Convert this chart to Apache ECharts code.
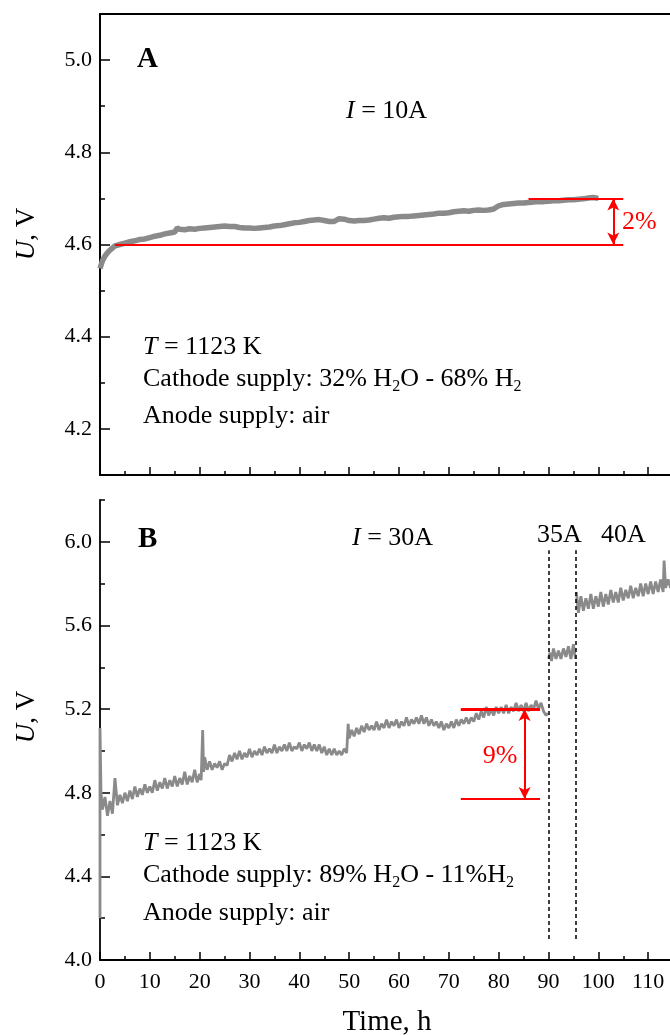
<!DOCTYPE html>
<html><head><meta charset="utf-8">
<script src="https://cdn.jsdelivr.net/npm/echarts@6/dist/echarts.min.js"></script>
<style>html,body{margin:0;padding:0;background:#fff}#c{width:670px;height:1035px}</style>
</head><body><div id="c"></div>
<script>
// ---- Data (time h, voltage V) ----
const panelA_10A = [
[0,4.548],[0.5,4.565],[1,4.575],[1.5,4.582],[2,4.588],[3,4.597],[4,4.600],[5,4.603],[6,4.606],[7,4.608],
[8,4.611],[9,4.612],[10,4.615],[11,4.618],[12,4.620],[13,4.623],[14,4.625],[15,4.627],[15.5,4.636],[16,4.633],
[17,4.632],[18,4.634],[19,4.633],[20,4.635],[21,4.636],[22,4.637],[23,4.638],[24,4.639],[25,4.640],[26,4.639],
[27,4.639],[28,4.637],[29,4.636],[30,4.636],[31,4.635],[32,4.636],[33,4.637],[34,4.638],[35,4.640],[36,4.641],
[37,4.643],[38,4.645],[39,4.647],[40,4.648],[41,4.650],[42,4.652],[43,4.653],[44,4.654],[45,4.652],[46,4.650],
[47,4.650],[48,4.656],[49,4.655],[50,4.652],[51,4.651],[52,4.652],[53,4.652],[54,4.653],[55,4.655],[56,4.657],
[57,4.658],[58,4.657],[59,4.659],[60,4.660],[61,4.661],[62,4.661],[63,4.662],[64,4.663],[65,4.664],[66,4.665],
[67,4.666],[68,4.668],[69,4.668],[70,4.669],[71,4.671],[72,4.672],[73,4.673],[74,4.672],[75,4.674],[76,4.675],
[77,4.674],[78,4.675],[79,4.677],[80,4.684],[81,4.687],[82,4.688],[83,4.689],[84,4.690],[85,4.690],[86,4.691],
[87,4.692],[88,4.693],[89,4.693],[90,4.694],[91,4.695],[92,4.695],[93,4.696],[94,4.697],[95,4.697],[96,4.698],
[97,4.699],[98,4.701],[99,4.702],[100,4.700]
];
const panelB_30A = [
[0,4.20],[0,5.11],[0.2,4.80],[0.5,4.72],[1,4.78],[1.5,4.69],[2,4.76],[2.5,4.70],[3,4.87],[3.5,4.74],
[4,4.79],[4.5,4.75],[5,4.80],[5.5,4.76],[6,4.81],[6.5,4.77],[7,4.83],[7.5,4.78],[8,4.82],[8.5,4.79],
[9,4.84],[9.5,4.80],[10,4.83],[10.5,4.80],[11,4.86],[11.5,4.81],[12,4.85],[12.5,4.82],[13,4.87],[13.5,4.82],
[14,4.86],[14.5,4.83],[15,4.88],[15.5,4.83],[16,4.87],[16.5,4.84],[17,4.90],[17.5,4.84],[18,4.88],[18.5,4.85],
[19,4.91],[19.5,4.85],[20,4.89],[20.3,4.86],[20.6,5.10],[20.8,4.90],[21,4.97],[21.5,4.91],[22,4.95],[22.5,4.91],
[23,4.94],[23.5,4.92],[24,4.95],[24.5,4.91],[25,4.94],[25.5,4.93],[26,4.98],[26.5,4.95],[27,4.99],[27.5,4.96],
[28,5.00],[28.5,4.96],[29,4.99],[29.5,4.97],[30,5.01],[30.5,4.97],[31,5.00],[31.5,4.98],[32,5.01],[32.5,4.98],
[33,5.02],[33.5,4.99],[34,5.01],[34.5,4.99],[35,5.03],[35.5,4.99],[36,5.02],[36.5,5.00],[37,5.03],[37.5,5.00],
[38,5.04],[38.5,5.00],[39,5.02],[39.5,5.01],[40,5.04],[40.5,5.00],[41,5.03],[41.5,5.01],[42,5.04],[42.5,5.00],
[43,5.03],[43.5,5.00],[44,5.03],[44.5,4.99],[45,5.02],[45.5,4.98],[46,5.01],[46.5,4.98],[47,5.01],[47.5,4.98],
[48,5.00],[48.5,4.98],[49,5.01],[49.5,4.99],[49.8,5.13],[50,5.06],[50.5,5.10],[51,5.07],[51.5,5.11],[52,5.08],
[52.5,5.12],[53,5.09],[53.5,5.13],[54,5.10],[54.5,5.12],[55,5.10],[55.5,5.14],[56,5.10],[56.5,5.13],[57,5.11],
[57.5,5.15],[58,5.11],[58.5,5.14],[59,5.12],[59.5,5.15],[60,5.11],[60.5,5.14],[61,5.12],[61.5,5.16],[62,5.12],
[62.5,5.15],[63,5.13],[63.5,5.16],[64,5.13],[64.5,5.17],[65,5.13],[65.5,5.16],[66,5.12],[66.5,5.15],[67,5.12],
[67.5,5.14],[68,5.11],[68.5,5.14],[69,5.10],[69.5,5.13],[70,5.11],[70.5,5.14],[71,5.11],[71.5,5.15],[72,5.12],
[72.5,5.15],[73,5.13],[73.5,5.16],[74,5.13],[74.5,5.16],[75,5.14],[75.5,5.18],[76,5.15],[76.5,5.19],[77,5.16],
[77.5,5.21],[78,5.17],[78.5,5.20],[79,5.17],[79.5,5.21],[80,5.18],[80.5,5.21],[81,5.18],[81.5,5.22],[82,5.18],
[82.5,5.21],[83,5.19],[83.5,5.23],[84,5.19],[84.5,5.22],[85,5.19],[85.5,5.23],[86,5.19],[86.5,5.22],[87,5.20],
[87.5,5.24],[88,5.20],[88.5,5.23],[89,5.19],[89.5,5.17],[89.9,5.18]
];
const panelB_35A = [
[90,5.44],[90.3,5.47],[90.6,5.43],[91,5.49],[91.5,5.44],[92,5.48],[92.5,5.44],[93,5.49],[93.5,5.45],[94,5.50],
[94.5,5.44],[95,5.51],[95.4,5.44]
];
const panelB_40A = [
[95.6,5.76],[96,5.66],[96.5,5.74],[97,5.67],[97.5,5.73],[98,5.68],[98.5,5.75],[99,5.68],[99.5,5.74],[100,5.69],
[100.5,5.76],[101,5.69],[101.5,5.75],[102,5.70],[102.5,5.77],[103,5.71],[103.5,5.76],[104,5.71],[104.5,5.78],[105,5.72],
[105.5,5.77],[106,5.73],[106.5,5.79],[107,5.73],[107.5,5.78],[108,5.74],[108.5,5.80],[109,5.74],[109.5,5.80],[110,5.75],
[110.5,5.81],[111,5.75],[111.5,5.81],[112,5.76],[112.5,5.82],[113,5.76],[113.2,5.91],[113.5,5.78],[114,5.82],[114.5,5.78],
[115,5.81]
];
const yMajorA = [4.2,4.4,4.6,4.8,5.0];
const yMinorA = [4.3,4.5,4.7,4.9];
const yMajorB = [4.0,4.4,4.8,5.2,5.6,6.0];
const yMinorB = [4.2,4.6,5.0,5.4,5.8,6.2];
const currentSteps = [90, 95.5];

const FONT = "'Liberation Serif','Times New Roman',serif";
const LINE = {show:true, onZero:false, lineStyle:{color:'#000', width:1.8}};
const TICKSTYLE = {color:'#000', width:1.5};

function yPair(grid, min, max, major, minor){
  return [
    {type:'value', gridIndex:grid, min, max, position:'left', axisLine:LINE, splitLine:{show:false},
     axisTick:{show:true, inside:true, length:10, customValues:major, lineStyle:TICKSTYLE},
     axisLabel:{show:true, customValues:major, margin:8, color:'#000', fontFamily:FONT, fontSize:22,
       formatter:v=>Number(v).toFixed(1)}},
    {type:'value', gridIndex:grid, min, max, position:'left', axisLine:{show:false}, splitLine:{show:false},
     axisLabel:{show:false},
     axisTick:{show:true, inside:true, length:5, customValues:minor, lineStyle:TICKSTYLE}}
  ];
}
function xAx(grid, labels){
  return {type:'value', gridIndex:grid, min:0, max:120, interval:10, position:'bottom',
    axisLine:LINE, splitLine:{show:false},
    axisTick:{show:true, inside:true, length:8, lineStyle:TICKSTYLE},
    minorTick:{show:true, splitNumber:2, length:4, lineStyle:TICKSTYLE},
    axisLabel:{show:labels, margin:11, color:'#000', fontFamily:FONT, fontSize:22}};
}
function richFor(size, fill){
  return {
    i:{fontFamily:FONT, fontSize:size, fontStyle:'italic', fill, lineHeight:32},
    s:{fontFamily:FONT, fontSize:16, fill, lineHeight:15, verticalAlign:'bottom'}
  };
}
function txt(x, y, text, o){
  o = o || {};
  const size = o.size || 26, fill = o.fill || '#000', al = o.align || 'left';
  return {type:'text', x, y, rotation:o.rotation || 0, z:100, silent:true,
    style:{text, fill, fontFamily:FONT, fontSize:size, fontWeight:o.weight || 'normal', lineHeight:32,
      align:al, textAlign:al, verticalAlign:'middle', textVerticalAlign:'middle', rich:richFor(size, fill)}};
}
const red = '#ff0000';
const seg = (a,b,extra)=>[Object.assign({coord:a}, extra||{}), {coord:b}];
const arrowSeg = (a,b)=>[{coord:a, symbol:'arrow'}, {coord:b, symbol:'arrow'}];
const grayLine = w => ({color:'#8a8a8a', width:w});

const option = {
  animation:false,
  backgroundColor:'#fff',
  grid:[
    {left:100, top:14, width:598, height:461, show:true, borderColor:'#000', borderWidth:1.8, backgroundColor:'transparent', outerBoundsMode:'none', containLabel:false},
    {left:100, top:500, width:598, height:460, show:false, outerBoundsMode:'none', containLabel:false}
  ],
  xAxis:[xAx(0,false), xAx(1,true)],
  yAxis:[].concat(yPair(0,4.1,5.1,yMajorA,yMinorA), yPair(1,4.0,6.2,yMajorB,yMinorB)),
  series:[
    {type:'line', xAxisIndex:0, yAxisIndex:0, data:panelA_10A, showSymbol:false, symbol:'none',
     lineStyle:grayLine(5.5), z:2,
     markLine:{silent:true, symbol:['none','none'], symbolSize:[9,12], label:{show:false}, animation:false,
       lineStyle:{color:red, width:2, type:'solid'},
       data:[ seg([3,4.6],[105,4.6]), seg([86,4.7],[105,4.7]), arrowSeg([103,4.6],[103,4.7]) ]}},
    {type:'line', xAxisIndex:1, yAxisIndex:2, data:panelB_30A, showSymbol:false, symbol:'none',
     lineStyle:grayLine(2.8), z:2,
     markLine:{silent:true, symbol:['none','none'], symbolSize:[9,12], label:{show:false}, animation:false,
       lineStyle:{color:red, width:2, type:'solid'},
       data:[ seg([72.4,5.2],[88.3,5.2],{lineStyle:{color:red,width:3}}), seg([72.4,4.77],[88.3,4.77]), arrowSeg([85.2,5.2],[85.2,4.77]),
         seg([currentSteps[0],4.1],[currentSteps[0],5.96],{lineStyle:{color:'#000',width:1.5,type:[4,3]}}),
         seg([currentSteps[1],4.1],[currentSteps[1],5.96],{lineStyle:{color:'#000',width:1.5,type:[4,3]}}) ]}},
    {type:'line', xAxisIndex:1, yAxisIndex:2, data:panelB_35A, showSymbol:false, symbol:'none',
     lineStyle:grayLine(2.8), z:2},
    {type:'line', xAxisIndex:1, yAxisIndex:2, data:panelB_40A, showSymbol:false, symbol:'none',
     lineStyle:grayLine(2.8), z:2}
  ],
  graphic:{elements:[
    txt(137,60,'A',{size:29, weight:'bold'}),
    txt(346,111,'{i|I} = 10A'),
    txt(143,347,'{i|T} = 1123 K'),
    txt(143,379,'Cathode supply: 32% H{s|2}O - 68% H{s|2}'),
    txt(143,416,'Anode supply: air'),
    txt(622,222,'2%',{fill:red}),
    txt(138,540,'B',{size:29, weight:'bold'}),
    txt(352,538,'{i|I} = 30A'),
    txt(537,535,'35A'),
    txt(601,535,'40A'),
    txt(500,756,'9%',{fill:red, align:'center'}),
    txt(143,843,'{i|T} = 1123 K'),
    txt(143,875,'Cathode supply: 89% H{s|2}O - 11%H{s|2}'),
    txt(143,913,'Anode supply: air'),
    txt(27,234,'{i|U}, V',{size:27, align:'center', rotation:Math.PI/2}),
    txt(27,717,'{i|U}, V',{size:27, align:'center', rotation:Math.PI/2}),
    txt(387,1022,'Time, h',{size:29, align:'center'})
  ]}
};
const chart = echarts.init(document.getElementById('c'), null, {renderer:'canvas'});
chart.setOption(option);
</script></body></html>
